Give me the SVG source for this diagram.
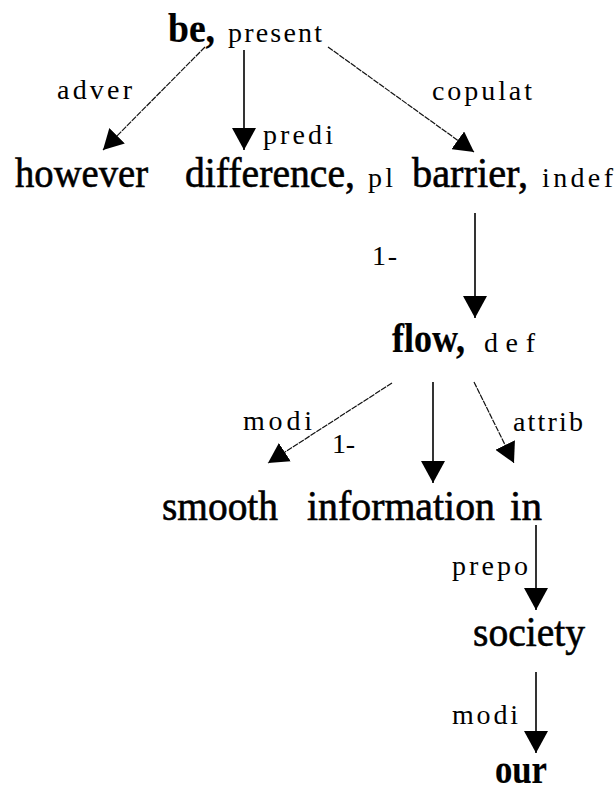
<svg xmlns="http://www.w3.org/2000/svg" width="615" height="792" viewBox="0 0 615 792">
  <style>
    .w { font-family: "Liberation Serif", "Times New Roman", serif; font-size: 42px; fill: #000; stroke: #000; stroke-width: 0.6; }
    .b { font-weight: bold; stroke-width: 0.2; }
    .s { font-family: "Liberation Serif", "Times New Roman", serif; font-size: 28px; fill: #000; }
    .v { stroke: #000; stroke-width: 1.6; fill: none; }
    .d { stroke: #111; stroke-width: 1.2; fill: none; stroke-dasharray: 6 1; }
  </style>
  <defs>
    <marker id="head" markerUnits="userSpaceOnUse" viewBox="0 0 22 24" refX="22" refY="12" markerWidth="22" markerHeight="24" orient="auto">
      <path d="M0,0 L22,12 L0,24 Z" fill="#000"/>
    </marker>
    <marker id="headS" markerUnits="userSpaceOnUse" viewBox="0 0 22 24" refX="22" refY="12" markerWidth="20" markerHeight="22" orient="auto">
      <path d="M0,0 L22,12 L0,24 Z" fill="#000"/>
    </marker>
  </defs>
  <rect width="615" height="792" fill="#fff"/>

  <!-- dependency links -->
  <g id="connectors">
    <line class="d" x1="205" y1="47" x2="103" y2="150" marker-end="url(#headS)"/>
    <line class="v" x1="244" y1="50" x2="244" y2="150" marker-end="url(#head)"/>
    <line class="d" x1="328" y1="47" x2="474" y2="152" marker-end="url(#headS)"/>
    <line class="v" x1="475" y1="213" x2="475" y2="318" marker-end="url(#head)"/>
    <line class="d" x1="392" y1="383" x2="268" y2="463" marker-end="url(#headS)"/>
    <line class="v" x1="433" y1="382" x2="433" y2="483" marker-end="url(#head)"/>
    <line class="d" x1="474" y1="382" x2="514" y2="463" marker-end="url(#headS)"/>
    <line class="v" x1="536" y1="525" x2="536" y2="610" marker-end="url(#head)"/>
    <line class="v" x1="536" y1="672" x2="536" y2="753" marker-end="url(#head)"/>

    <text class="s" x="57" y="99" textLength="75" lengthAdjust="spacing">adver</text>
    <text class="s" x="263" y="144" textLength="70" lengthAdjust="spacing">predi</text>
    <text class="s" x="432" y="100" textLength="100" lengthAdjust="spacing">copulat</text>
    <text class="s" x="372" y="265" textLength="25" lengthAdjust="spacing">1-</text>
    <text class="s" x="243" y="430" textLength="69" lengthAdjust="spacing">modi</text>
    <text class="s" x="332" y="453" textLength="23" lengthAdjust="spacing">1-</text>
    <text class="s" x="513" y="431" textLength="70" lengthAdjust="spacing">attrib</text>
    <text class="s" x="452" y="575" textLength="76" lengthAdjust="spacing">prepo</text>
    <text class="s" x="452" y="724" textLength="66" lengthAdjust="spacing">modi</text>
  </g>

  <!-- word nodes -->
  <g id="be">
    <text class="w b" x="168" y="42" textLength="47" lengthAdjust="spacingAndGlyphs">be,</text>
    <text class="s" x="228" y="42" textLength="94" lengthAdjust="spacing">present</text>
  </g>
  <g id="however">
    <text class="w" x="15" y="187" textLength="133" lengthAdjust="spacingAndGlyphs">however</text>
  </g>
  <g id="difference">
    <text class="w" x="185" y="187" textLength="170" lengthAdjust="spacingAndGlyphs">difference,</text>
    <text class="s" x="368" y="187" textLength="25" lengthAdjust="spacing">pl</text>
  </g>
  <g id="barrier">
    <text class="w" x="412" y="187" textLength="116" lengthAdjust="spacingAndGlyphs">barrier,</text>
    <text class="s" x="542" y="187" textLength="71" lengthAdjust="spacing">indef</text>
  </g>
  <g id="flow">
    <text class="w b" x="392" y="352" textLength="73" lengthAdjust="spacingAndGlyphs">flow,</text>
    <text class="s" x="484" y="352" textLength="51" lengthAdjust="spacing">def</text>
  </g>
  <g id="smooth">
    <text class="w" x="162" y="520" textLength="116" lengthAdjust="spacingAndGlyphs">smooth</text>
  </g>
  <g id="information">
    <text class="w" x="307" y="520" textLength="188" lengthAdjust="spacingAndGlyphs">information</text>
  </g>
  <g id="in">
    <text class="w" x="510" y="520" textLength="32" lengthAdjust="spacingAndGlyphs">in</text>
  </g>
  <g id="society">
    <text class="w" x="473" y="646" textLength="112" lengthAdjust="spacingAndGlyphs">society</text>
  </g>
  <g id="our">
    <text class="w b" x="495" y="783" font-size="40" textLength="52" lengthAdjust="spacingAndGlyphs">our</text>
  </g>
</svg>
